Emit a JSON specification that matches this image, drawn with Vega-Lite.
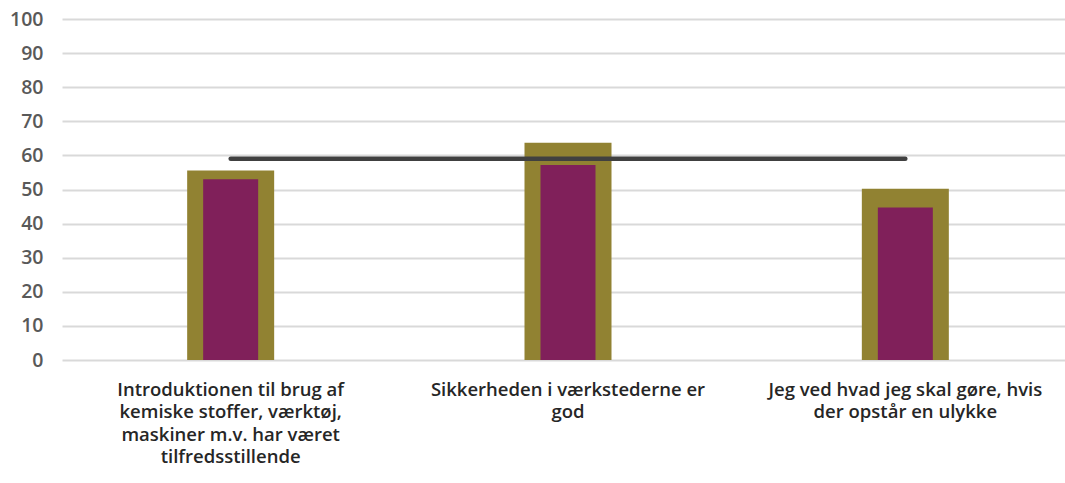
{
  "$schema": "https://vega.github.io/schema/vega-lite/v6.json",
  "autosize": "none",
  "padding": {"left": 62, "top": 19, "right": 0, "bottom": 123},
  "width": 1003,
  "height": 341,
  "background": "#ffffff",
  "config": {
    "view": {"stroke": null},
    "font": "Open Sans",
    "axisY": {
      "title": null,
      "values": [0, 10, 20, 30, 40, 50, 60, 70, 80, 90, 100],
      "labelOverlap": false,
      "domain": false,
      "ticks": false,
      "labelPadding": 19,
      "labelFont": "Open Sans",
      "labelFontWeight": 600,
      "labelFontSize": 19.5,
      "labelColor": "#595959",
      "gridColor": "#d9d9d9",
      "gridWidth": 2
    }
  },
  "data": {
    "values": [
      {"kategori": "Introduktionen til brug af kemiske stoffer, værktøj, maskiner m.v. har været tilfredsstillende", "samlet": 55.6, "skole": 53.0, "reference": 59.0},
      {"kategori": "Sikkerheden i værkstederne er god", "samlet": 63.7, "skole": 57.2, "reference": 59.0},
      {"kategori": "Jeg ved hvad jeg skal gøre, hvis der opstår en ulykke", "samlet": 50.2, "skole": 44.7, "reference": 59.0}
    ]
  },
  "encoding": {
    "x": {
      "field": "kategori",
      "type": "nominal",
      "sort": null,
      "scale": {"range": [0, 1012], "paddingInner": 0, "paddingOuter": 0},
      "axis": {
        "title": null,
        "domain": false,
        "ticks": false,
        "labelAngle": 0,
        "labelPadding": 20,
        "labelFont": "Open Sans",
        "labelFontWeight": 600,
        "labelFontSize": 18.5,
        "labelColor": "#262626",
        "labelLimit": 400,
        "labelLineHeight": 22.5,
        "labelExpr": "datum.value == 'Sikkerheden i værkstederne er god' ? ['Sikkerheden i værkstederne er', 'god'] : datum.value == 'Jeg ved hvad jeg skal gøre, hvis der opstår en ulykke' ? ['Jeg ved hvad jeg skal gøre,  hvis', 'der opstår en ulykke'] : ['Introduktionen til brug af', 'kemiske stoffer,  værktøj,', 'maskiner m.v. har været', 'tilfredsstillende']"
      }
    }
  },
  "layer": [
    {
      "mark": {"type": "bar", "size": 87, "color": "#918232"},
      "encoding": {
        "y": {
          "field": "samlet",
          "type": "quantitative",
          "scale": {"domain": [0, 100], "nice": false},
          "axis": {"title": null}
        }
      }
    },
    {
      "mark": {"type": "bar", "size": 55, "color": "#80205A"},
      "encoding": {
        "y": {"field": "skole", "type": "quantitative", "axis": {"title": null}}
      }
    },
    {
      "mark": {"type": "line", "color": "#404040", "strokeWidth": 4.5, "strokeCap": "round"},
      "encoding": {
        "y": {"field": "reference", "type": "quantitative", "axis": {"title": null}}
      }
    }
  ]
}
